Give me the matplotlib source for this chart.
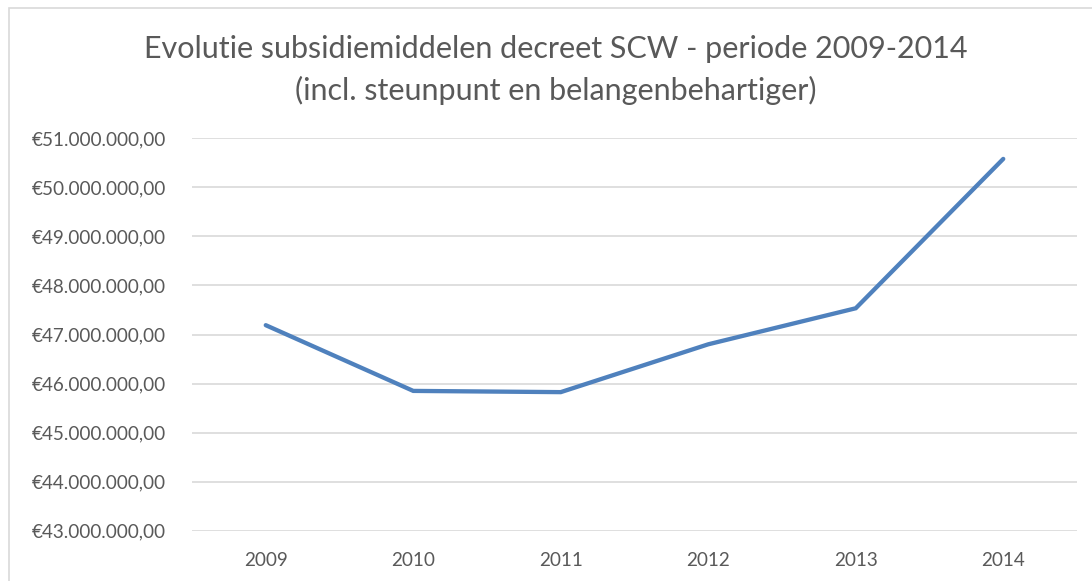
import matplotlib.pyplot as plt
from matplotlib.patches import Rectangle
from matplotlib.ticker import FuncFormatter

# data
jaren = ['2009', '2010', '2011', '2012', '2013', '2014']
subsidies = [47190000, 45850000, 45825000, 46800000, 47535000, 50580000]

plt.rcParams['font.family'] = ['Lato', 'DejaVu Sans']
tekst_kleur = '#595959'
raster_kleur = '#D9D9D9'

fig = plt.figure(figsize=(10.92, 5.81), dpi=100)
ax = fig.add_axes([192 / 1092, 1 - 530.7 / 581, (1077 - 192) / 1092, (530.7 - 138.3) / 581])

x = range(len(jaren))
ax.plot(x, subsidies, color='#4F81BD', linewidth=3.1, solid_capstyle='round', solid_joinstyle='miter')

ax.set_xlim(-0.5, len(jaren) - 0.5)
ax.set_ylim(43000000, 51000000)
ax.set_yticks(range(43000000, 51000001, 1000000))
ax.set_xticks(list(x))
ax.set_xticklabels(jaren)


def euro(v, pos):
    s = f"{v:,.2f}".replace(',', 'X').replace('.', ',').replace('X', '.')
    return '€' + s


ax.yaxis.set_major_formatter(FuncFormatter(euro))
ax.grid(axis='y', color=raster_kleur, linewidth=1.2)
ax.set_axisbelow(True)
for s in ax.spines.values():
    s.set_visible(False)
ax.tick_params(axis='both', length=0, labelsize=13.6, labelcolor=tekst_kleur)
ax.tick_params(axis='y', pad=19)
ax.tick_params(axis='x', pad=15)

fig.text(556 / 1092, 1 - 70 / 581,
         'Evolutie subsidiemiddelen decreet SCW - periode 2009-2014\n(incl. steunpunt en belangenbehartiger)',
         ha='center', va='center', fontsize=22, color=tekst_kleur, linespacing=1.5)

# chart border
fig.patches.append(Rectangle((9 / 1092, -0.1), 1.2, 1 - 8 / 581 + 0.1, transform=fig.transFigure,
                             fill=False, edgecolor=raster_kleur, linewidth=1.2))

fig.savefig('out.png', dpi=100)
